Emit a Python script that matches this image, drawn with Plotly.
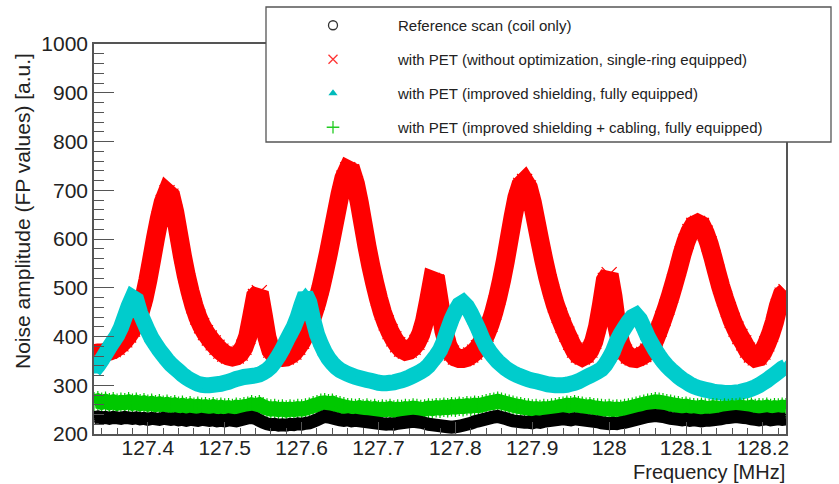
import plotly.graph_objects as go

# ---------------- data ----------------
FREQ_START = 127.330   # MHz, first sample
FREQ_STEP = 0.005      # MHz between samples

red_pet_unopt = [
    365, 366, 366, 368, 370, 373, 378, 385, 393, 403,
    415, 430, 450, 478, 515, 558, 602, 642, 675, 695,
    688, 655, 610, 565, 525, 492, 463, 440, 422, 408,
    397, 387, 378, 370, 364, 360, 358, 360, 366, 378,
    400, 440, 482, 490, 445, 398, 372, 362, 358, 357,
    358, 362, 368, 378, 390, 405, 422, 445, 470, 500,
    535, 572, 612, 652, 692, 725, 742, 738, 713, 675,
    630, 585, 545, 510, 478, 450, 428, 410, 395, 383,
    374, 370, 372, 378, 388, 405, 432, 472, 515, 512,
    462, 412, 382, 366, 358, 355, 355, 357, 362, 368,
    377, 390, 405, 425, 450, 480, 515, 555, 600, 645,
    685, 710, 718, 705, 675, 635, 595, 557, 522, 492,
    465, 443, 423, 405, 388, 372, 362, 358, 362, 372,
    390, 420, 465, 515, 527, 482, 422, 386, 368, 360,
    356, 355, 358, 363, 370, 380, 395, 415, 437, 460,
    485, 512, 540, 570, 595, 615, 628, 632, 628, 612,
    590, 562, 532, 503, 478, 455, 433, 415, 400, 387,
    372, 362, 356, 358, 368, 385, 405, 430, 462, 485,
    492,
]

cyan_pet_shield = [
    331, 340, 352, 365, 378, 390, 402, 418, 440, 462,
    480, 475, 448, 430, 412, 396, 384, 372, 362, 352,
    343, 336, 329, 322, 316, 311, 307, 303, 301, 300,
    300, 301, 302, 303, 305, 307, 310, 313, 315, 317,
    318, 319, 320, 322, 326, 331, 338, 348, 360, 374,
    390, 405, 420, 440, 465, 487, 470, 435, 405, 385,
    368, 355, 345, 337, 331, 327, 323, 320, 317, 315,
    313, 311, 309, 307, 305, 304, 304, 305, 306, 308,
    310, 313, 316, 320, 324, 328, 333, 340, 350, 360,
    372, 390, 413, 435, 452, 465, 470, 462, 448, 432,
    415, 396, 380, 368, 358, 349, 342, 335, 330, 325,
    321, 318, 315, 312, 310, 308, 306, 304, 302, 301,
    300, 300, 300, 301, 303, 305, 308, 312, 316, 320,
    324, 328, 333, 342, 355, 370, 390, 405, 418, 430,
    440, 444, 435, 418, 400, 386, 372, 360, 349, 340,
    332, 325, 318, 312, 307, 302, 298, 295, 293, 291,
    289, 287, 286, 285, 284, 284, 284, 285, 286, 288,
    290, 293, 296, 300, 305, 310, 316, 322, 328, 334,
    338,
]

green_pet_shield_cabling = [
    266, 268, 265, 267, 264, 266, 263, 265, 264, 266,
    263, 265, 262, 264, 261, 263, 260, 262, 259, 261,
    258, 260, 257, 259, 256, 258, 255, 257, 255, 256,
    254, 256, 253, 255, 253, 254, 252, 255, 254, 256,
    257, 260, 258, 260, 256, 253, 251, 252, 250, 251,
    249, 251, 250, 252, 251, 253, 255, 258, 260, 263,
    264, 262, 263, 260, 258, 256, 254, 253, 252, 254,
    251, 253, 250, 252, 249, 251, 250, 252, 249, 251,
    250, 252, 251, 253, 252, 250, 251, 253, 252, 254,
    253, 255, 254, 256, 255, 257, 256, 258, 257, 259,
    258, 260, 262, 264, 265, 267, 265, 263, 261, 259,
    257, 256, 254, 253, 251, 252, 250, 252, 251, 253,
    254, 256, 257, 259, 258, 260, 258, 257, 255, 256,
    254, 253, 252, 251, 252, 250, 251, 250, 252, 253,
    255, 257, 259, 261, 263, 264, 266, 265, 264, 262,
    261, 259, 258, 256, 257, 255, 254, 253, 255, 253,
    252, 254, 253, 251, 253, 252, 254, 253, 255, 254,
    253, 255, 252, 254, 253, 255, 252, 254, 253, 255,
    254,
]

black_reference = [
    234, 235, 233, 234, 232, 234, 233, 232, 234, 233,
    232, 233, 231, 232, 230, 232, 231, 230, 232, 231,
    230, 231, 229, 230, 228, 230, 229, 228, 230, 229,
    228, 229, 227, 228, 227, 229, 228, 227, 229, 231,
    233, 234, 232, 228, 224, 221, 219, 220, 218, 219,
    218, 220, 219, 221, 220, 222, 223, 226, 229, 233,
    236, 235, 233, 231, 229, 228, 229, 227, 228, 227,
    226, 225, 224, 223, 222, 221, 220, 221, 220, 222,
    223, 224, 225, 226, 225, 224, 222, 220, 219, 218,
    217, 216, 215, 214, 215, 216, 218, 220, 222, 225,
    227, 229, 231, 233, 235, 236, 234, 232, 229, 227,
    226, 225, 224, 224, 223, 225, 224, 226, 227, 228,
    229, 230, 231, 230, 229, 231, 230, 229, 228, 227,
    226, 225, 223, 222, 221, 222, 221, 223, 224, 226,
    228, 230, 232, 234, 236, 237, 238, 237, 236, 234,
    232, 231, 230, 229, 230, 228, 229, 228, 227, 228,
    228, 229, 230, 231, 233, 234, 235, 236, 235, 234,
    233, 231, 230, 229, 230, 231, 229, 230, 231, 230,
    231,
]

x_tick_vals = [127.4, 127.5, 127.6, 127.7, 127.8, 127.9, 128.0, 128.1, 128.2]
x_tick_text = ["127.4", "127.5", "127.6", "127.7", "127.8", "127.9", "128", "128.1", "128.2"]

legend_labels = [
    "Reference scan (coil only)",
    "with PET (without optimization, single-ring equipped)",
    "with PET (improved shielding, fully equipped)",
    "with PET (improved shielding + cabling, fully equipped)",
]

# ---------------- figure ----------------
def freqs(n):
    return [round(FREQ_START + FREQ_STEP * i, 4) for i in range(n)]

W, H = 839, 484
ML, MR, MT, MB = 94, 53, 44, 50
PW, PH = W - ML - MR, H - MT - MB

def px2paper_x(px):
    return (px - ML) / PW

def px2paper_y(py):
    return (H - MB - py) / PH

FONT = "Liberation Sans, Arial, Helvetica, sans-serif"
TXT = "#222222"
FRAME = "#555555"

fig = go.Figure()

# dense scans drawn as thick bands of markers
series_styles = [
    (red_pet_unopt, "#ff0000", 19, dict(symbol="x-thin", size=15, line=dict(width=1.2, color="#ff0000"))),
    (cyan_pet_shield, "#00cccc", 16, dict(symbol="triangle-up", size=13, line=dict(width=0))),
    (green_pet_shield_cabling, "#00c800", 15, dict(symbol="cross-thin", size=14, line=dict(width=1.2, color="#00c800"))),
    (black_reference, "#000000", 13, dict(symbol="circle-open", size=9, line=dict(width=1.0, color="#000000"))),
]
for vals, col, lw, mk in series_styles:
    fig.add_trace(go.Scatter(
        x=freqs(len(vals)), y=vals, mode="lines+markers",
        line=dict(color=col, width=lw, shape="linear", simplify=False),
        marker=dict(color=col, **mk),
        showlegend=False, hoverinfo="skip"))

# legend entries (symbols as in the reference legend)
leg_markers = [
    dict(symbol="circle-open", size=9, color="#333333", line=dict(width=1.3, color="#333333")),
    dict(symbol="x-thin", size=9, color="#ff3333", line=dict(width=1.3, color="#ff3333")),
    dict(symbol="triangle-up", size=8, color="#00bbbb", line=dict(width=0)),
    dict(symbol="cross-thin", size=9, color="#22cc22", line=dict(width=1.3, color="#22cc22")),
]
for i, (lab, mk) in enumerate(zip(legend_labels, leg_markers)):
    fig.add_trace(go.Scatter(x=[None], y=[None], mode="markers", marker=mk,
                             name=lab, legendgroup=f"g{i}", showlegend=True))

# legend box (white, covers frame)
fig.add_shape(type="rect", xref="paper", yref="paper",
              x0=px2paper_x(266), x1=px2paper_x(831),
              y0=px2paper_y(142), y1=px2paper_y(7),
              line=dict(color=FRAME, width=1.3), fillcolor="white", layer="above")

fig.update_layout(
    width=W, height=H,
    margin=dict(l=ML, r=MR, t=MT, b=MB, autoexpand=False),
    paper_bgcolor="white", plot_bgcolor="white",
    font=dict(family=FONT, color=TXT),
    showlegend=True,
    legend=dict(x=px2paper_x(268), y=px2paper_y(9), xanchor="left", yanchor="top",
                bgcolor="rgba(0,0,0,0)", borderwidth=0,
                font=dict(family=FONT, size=15, color=TXT),
                itemwidth=120, tracegroupgap=11.5, traceorder="grouped"),
    xaxis=dict(range=[127.33, 128.23], showgrid=False, zeroline=False,
               tickvals=x_tick_vals, ticktext=x_tick_text,
               ticks="inside", ticklen=12, tickwidth=1.3, tickcolor=FRAME,
               ticklabelstandoff=-6,
               minor=dict(dtick=0.02, tick0=127.4, ticks="inside", ticklen=6, tickwidth=1.2, tickcolor=FRAME),
               showline=True, linecolor=FRAME, linewidth=1.6, mirror=True,
               tickfont=dict(family=FONT, size=21, color=TXT)),
    yaxis=dict(range=[200, 1000], dtick=100, showgrid=False, zeroline=False,
               ticks="inside", ticklen=20, tickwidth=1.3, tickcolor=FRAME,
               minor=dict(dtick=20, ticks="inside", ticklen=10, tickwidth=1.2, tickcolor=FRAME),
               showline=True, linecolor=FRAME, linewidth=1.6, mirror=True,
               tickfont=dict(family=FONT, size=21, color=TXT)),
)

fig.add_annotation(text="Frequency [MHz]", xref="paper", yref="paper",
                   x=px2paper_x(787), y=px2paper_y(472), xanchor="right", yanchor="middle",
                   showarrow=False, font=dict(family=FONT, size=20, color=TXT))
fig.add_annotation(text="Noise amplitude (FP values) [a.u.]", xref="paper", yref="paper",
                   x=px2paper_x(22), y=px2paper_y(211), xanchor="center", yanchor="middle",
                   textangle=-90, showarrow=False, font=dict(family=FONT, size=21, color=TXT))

fig.write_html("out.html")
